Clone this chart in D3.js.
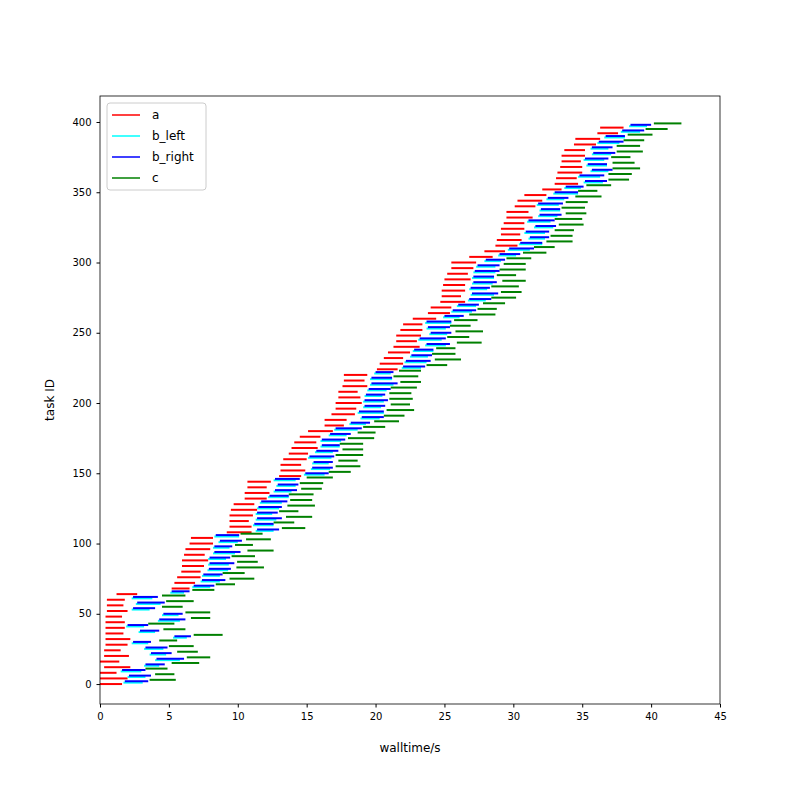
<!DOCTYPE html>
<html>
<head>
<script src="https://d3js.org/d3.v7.min.js"></script>
<style>
  body { margin: 0; background: #fff; }
  text { font-family: "DejaVu Sans", sans-serif; }
</style>
</head>
<body>
<div id="chart"></div>
<script>
// one task every 4 IDs: a at id, b_left at id+1, b_right at id+2, c at id+3
var aStart = [0,0,0,0.3,0,0.3,0.3,0.4,0.4,0.4,0.4,0.4,0.4,0.5,0.5,0.5,
  1.2,
  5.2,5.4,5.6,5.9,5.95,5.95,6.1,6.2,6.5,6.6,
  9.2,9.4,9.4,9.4,9.5,9.7,10.5,10.5,10.7,10.7,
  13.0,13.1,13.1,13.3,13.7,13.9,14.1,14.5,15.1,16.3,16.3,16.8,17.1,17.1,17.3,17.3,17.6,17.7,17.7,
  20.1,20.3,20.6,20.9,21.3,21.5,21.5,21.8,22.0,22.7,23.8,24.0,24.7,24.8,24.8,24.9,25.0,25.2,25.5,25.5,
  26.8,27.9,28.7,28.8,29.1,29.1,29.3,29.5,29.5,30.1,30.3,30.8,32.1,33.0,33.1,33.2,33.4,33.5,33.5,33.7,34.4,34.5,36.1,36.3];
var aDur = [1.6,2.0,1.2,1.9,1.4,1.8,1.2,1.6,1.8,1.3,1.4,1.4,1.2,1.5,1.2,1.3,
  1.5,
  1.3,1.5,1.7,1.4,1.6,1.9,1.5,1.8,1.7,1.6,
  1.8,1.6,1.4,1.7,1.9,1.5,1.6,1.8,1.4,1.7,
  1.6,1.8,1.5,1.7,1.4,1.9,1.6,1.5,1.8,1.4,1.6,1.7,1.5,1.9,1.6,1.4,1.8,1.5,1.7,
  1.5,1.7,1.4,1.6,1.9,1.5,1.8,1.6,1.4,1.7,1.6,1.5,1.8,1.4,1.7,1.6,1.9,1.5,1.6,1.8,
  1.7,1.5,1.6,1.8,1.4,1.7,1.5,1.9,1.6,1.5,1.8,1.6,1.4,1.7,1.5,1.8,1.6,1.4,1.7,1.5,1.6,1.8,1.5,1.7];
var bGap = [0.2,0.1,0.4,1.1,2.7,1.6,1.8,0.4,3.2,1.2,0.2,2.5,3.0,0.4,1.0,0.6,
  2.5,
  0.3,0.5,0.2,0.6,0.4,0.1,0.7,0.3,0.5,0.2,
  0.4,0.2,0.6,0.3,0.1,0.5,0.2,0.4,0.8,0.3,
  0.3,0.5,0.9,0.2,0.6,0.3,0.4,0.7,0.2,0.5,1.1,0.3,0.6,0.2,0.4,0.8,0.3,0.5,0.6,
  0.4,0.2,0.6,0.3,0.5,0.2,0.7,0.4,0.3,0.6,0.2,0.5,0.3,0.8,0.4,0.6,0.2,0.5,0.3,0.7,
  0.5,0.3,0.2,0.6,0.4,0.8,0.3,0.5,0.9,0.2,0.4,0.6,0.3,0.5,0.2,0.7,0.4,0.3,0.6,0.5,0.2,0.4,0.3,0.5];
var bRightDur = [1.7,1.6,1.7,1.4,2.0,1.5,1.6,1.3,1.2,1.4,1.5,1.9,1.4,1.6,2.0,1.8,
  1.3,
  1.5,1.7,1.4,1.6,1.8,1.5,1.9,1.3,1.6,1.7,
  1.6,1.4,1.8,1.5,1.7,1.9,1.4,1.6,1.5,1.8,
  1.7,1.5,1.4,1.8,1.6,1.3,1.7,1.5,1.9,1.4,1.6,1.8,1.5,1.7,1.4,1.6,1.9,1.5,1.3,
  1.6,1.8,1.5,1.4,1.7,1.9,1.5,1.6,1.8,1.4,1.7,1.5,1.6,1.9,1.4,1.7,1.5,1.8,1.6,1.4,
  1.5,1.8,1.6,1.4,1.7,1.5,1.9,1.6,1.4,1.8,1.5,1.7,1.3,1.6,1.8,1.5,1.4,1.7,1.6,1.5,1.8,1.4,1.6,1.5];
var bLeftDur = [1.4,1.3,1.5,1.1,1.8,1.2,1.4,1.2,1.0,1.2,1.3,1.6,1.2,1.3,1.8,1.5,
  1.0,
  1.3,1.4,1.3,1.5,1.5,1.3,1.6,1.2,1.4,1.8,
  1.3,1.5,1.5,1.2,1.6,1.6,1.5,1.3,1.4,1.6,
  1.5,1.4,1.2,1.7,1.3,1.4,1.5,1.3,1.7,1.2,1.4,1.9,1.3,1.5,1.3,1.4,1.7,1.6,1.2,
  1.4,1.6,1.3,1.5,1.5,1.7,1.3,1.4,1.9,1.2,1.5,1.4,1.3,1.7,1.3,1.5,1.6,1.6,1.4,1.2,
  1.3,1.6,1.7,1.2,1.5,1.4,1.7,1.4,1.5,1.6,1.3,1.8,1.2,1.4,1.6,1.3,1.5,1.5,1.4,1.3,1.6,1.5,1.4,1.3];
var cGap = [0.1,0.3,0.0,0.5,0.2,0.4,0.1,0.6,0.2,0.3,0.0,0.4,0.2,0.5,0.1,0.3,
  0.2,
  0.1,0.3,0.0,0.4,0.2,0.1,0.5,0.2,0.3,0.1,
  0.2,0.0,0.3,0.1,0.4,0.2,0.0,0.3,0.1,0.5,
  0.0,0.2,0.4,0.1,0.3,0.0,0.2,0.5,0.1,0.3,0.0,0.2,0.4,0.1,0.3,0.0,0.2,0.1,0.4,
  0.1,0.3,0.0,0.2,0.5,0.1,0.3,0.0,0.2,0.4,0.1,0.3,0.0,0.2,0.1,0.4,0.2,0.0,0.3,0.1,
  0.2,0.0,0.3,0.1,0.4,0.2,0.0,0.3,0.1,0.2,0.5,0.0,0.2,0.1,0.3,0.0,0.4,0.2,0.1,0.3,0.0,0.2,0.1,0.2];
var cDur = [1.9,1.4,1.6,2.0,1.7,1.5,1.8,1.3,2.1,1.6,1.9,1.4,1.8,1.5,2.0,1.7,
  1.6,
  1.4,1.8,1.6,2.0,1.5,1.7,1.9,1.3,1.8,1.6,
  1.7,1.5,1.9,1.4,2.0,1.6,1.8,1.5,1.7,1.9,
  1.6,1.8,1.4,2.0,1.5,1.7,1.9,1.3,1.6,1.8,1.5,2.0,1.4,1.7,1.6,1.9,1.5,1.8,1.6,
  1.5,1.9,1.7,1.4,1.8,1.6,2.0,1.5,1.7,1.9,1.4,1.6,1.8,1.5,2.0,1.7,1.4,1.9,1.6,1.8,
  1.7,1.5,1.9,1.6,1.4,1.8,2.0,1.5,1.7,1.6,1.9,1.4,1.8,1.5,1.7,2.0,1.6,1.4,1.9,1.7,1.5,1.8,1.6,2.0];
var xTicks = [0,5,10,15,20,25,30,35,40,45];
var yTicks = [0,50,100,150,200,250,300,350,400];
var seriesNames = ["a","b_left","b_right","c"];
var seriesColors = ["red","cyan","blue","green"];

// build segments from the task arrays
var segs = [];
aStart.forEach(function(s, i) {
  var id = i * 4;
  var aEnd = s + aDur[i];
  var bS = aEnd + bGap[i];
  var bEnd = bS + bRightDur[i];
  var cS = bEnd + cGap[i];
  segs.push({y: id, x0: s, x1: aEnd, c: "red"});
  segs.push({y: id + 1, x0: bS - 0.1, x1: bS - 0.1 + bLeftDur[i], c: "cyan"});
  segs.push({y: id + 2, x0: bS, x1: bEnd, c: "blue"});
  segs.push({y: id + 3, x0: cS, x1: cS + cDur[i], c: "green"});
});

var W = 800, H = 800;
var m = {left: 100, right: 80, top: 96, bottom: 96};
var svg = d3.select("#chart").append("svg").attr("width", W).attr("height", H);

var x = d3.scaleLinear().domain([0, 45]).range([m.left, W - m.right]);
var y = d3.scaleLinear().domain([-14.2, 418.5]).range([H - m.bottom, m.top]);

var order = ["red","cyan","blue","green"];
order.forEach(function(col) {
  svg.append("g").selectAll("line")
    .data(segs.filter(function(d) { return d.c == col; }))
    .enter().append("line")
    .attr("x1", function(d) { return x(d.x0); })
    .attr("x2", function(d) { return x(d.x1); })
    .attr("y1", function(d) { return y(d.y); })
    .attr("y2", function(d) { return y(d.y); })
    .attr("stroke", col)
    .attr("stroke-width", 2);
});

svg.append("g").attr("transform", "translate(0," + (H - m.bottom) + ")")
  .call(d3.axisBottom(x).tickValues(xTicks).tickSize(3.5).tickPadding(5))
  .call(function(g) { g.selectAll("text").attr("font-size", 10); g.select(".domain").remove(); });
svg.append("g").attr("transform", "translate(" + m.left + ",0)")
  .call(d3.axisLeft(y).tickValues(yTicks).tickSize(3.5).tickPadding(5))
  .call(function(g) { g.selectAll("text").attr("font-size", 10); g.select(".domain").remove(); });
svg.selectAll(".tick text").attr("font-family", "DejaVu Sans").attr("fill", "#000");
svg.selectAll(".tick line").attr("stroke", "#000");

svg.append("rect").attr("x", m.left).attr("y", m.top)
  .attr("width", W - m.left - m.right).attr("height", H - m.top - m.bottom)
  .attr("fill", "none").attr("stroke", "#000").attr("stroke-width", 0.8);

svg.append("text").attr("x", (m.left + W - m.right) / 2).attr("y", 752)
  .attr("text-anchor", "middle").attr("font-size", 12).text("walltime/s");
svg.append("text").attr("transform", "translate(54," + (m.top + (H - m.top - m.bottom) / 2) + ") rotate(-90)")
  .attr("text-anchor", "middle").attr("font-size", 12).text("task ID");

// legend
var lg = svg.append("g").attr("transform", "translate(107,103)");
lg.append("rect").attr("width", 99).attr("height", 87).attr("rx", 3)
  .attr("fill", "#fff").attr("stroke", "#ccc");
seriesNames.forEach(function(n, i) {
  var yy = 12 + i * 21;
  lg.append("line").attr("x1", 5).attr("x2", 33).attr("y1", yy).attr("y2", yy)
    .attr("stroke", seriesColors[i]).attr("stroke-width", 1.5);
  lg.append("text").attr("x", 45).attr("y", yy + 4).attr("font-size", 12).text(n);
});
</script>
</body>
</html>
